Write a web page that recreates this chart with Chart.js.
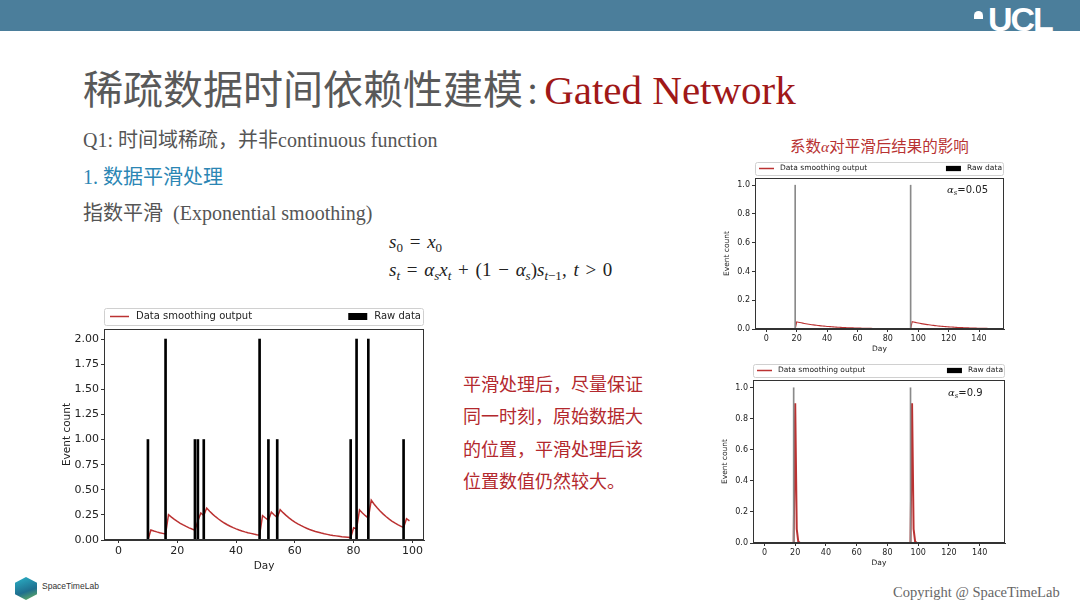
<!DOCTYPE html>
<html>
<head>
<meta charset="utf-8">
<script src="https://cdn.jsdelivr.net/npm/chart.js@4.4.1/dist/chart.umd.min.js"></script>
<style>
  html, body { margin: 0; padding: 0; background: #fff; }
  #lamina { position: relative; width: 1080px; height: 607px; overflow: hidden; background: #fff;
    font-family: "Liberation Serif", "Noto Sans CJK SC", serif; color: #555; }
  .abs { position: absolute; white-space: nowrap; }
  #banda { left: 0; top: 0; width: 1080px; height: 31px; background: #4b7e9b; }
  #ucl { left: 988px; top: 2px; font: bold 34px/34px "Liberation Sans", sans-serif; color: #fff; letter-spacing: -2px; }
  #cupula { left: 974px; top: 11px; width: 9px; height: 8px; background: #fff; border-radius: 5px 5px 0 0; }
  #titulo { left: 83px; top: 65px; font: 40px/44px "Noto Sans CJK SC", sans-serif; color: #595959; }
  #titulo .dos { font-family: "Liberation Serif", serif; color: #555; margin: 0 6px 0 4px; }
  #titulo .en { font: 41px/44px "Liberation Serif", serif; color: #a01818; }
  .linea { font-size: 20px; line-height: 24px; }
  #q1 { left: 83px; top: 128px; }
  #paso { left: 83px; top: 165px; color: #2b86b4; }
  #metodo { left: 83px; top: 201px; }
  .formula { font: 19px/22px "Liberation Serif", serif; color: #222; word-spacing: 2px; }
  .formula sub { font-size: 13px; vertical-align: -4px; line-height: 0; }
  #f1 { left: 389px; top: 231px; }
  #f2 { left: 389px; top: 259px; }
  #nota { left: 463px; top: 367px; font: 18px/32.3px "Noto Sans CJK SC", sans-serif; color: #b3282d; }
  #subtitulo { left: 790px; top: 135px; font: 15.5px/20px "Noto Sans CJK SC", sans-serif; color: #b83232; }
  #subtitulo i { font-family: "Liberation Serif", serif; }
  #cubo { left: 15px; top: 577px; width: 22px; height: 23px;
    background: linear-gradient(160deg, #2bb3c8, #1f6f8f 60%, #6fb85a);
    clip-path: polygon(50% 0, 100% 25%, 100% 75%, 50% 100%, 0 75%, 0 25%); }
  #lab { left: 42px; top: 581px; font: 8.5px/10px "Liberation Sans", sans-serif; color: #333; }
  #copy { left: 893px; top: 583px; font: 14.5px/18px "Liberation Serif", serif; color: #666; }
  canvas { position: absolute; }
</style>
</head>
<body>
<div id="lamina">
  <div id="banda" class="abs"></div>
  <div id="cupula" class="abs"></div>
  <div id="ucl" class="abs">UCL</div>

  <div id="titulo" class="abs">稀疏数据时间依赖性建模<span class="dos">:</span><span class="en">Gated Network</span></div>
  <div id="q1" class="abs linea">Q1: 时间域稀疏，并非continuous function</div>
  <div id="paso" class="abs linea">1. 数据平滑处理</div>
  <div id="metodo" class="abs linea">指数平滑&nbsp; (Exponential smoothing)</div>
  <div id="f1" class="abs formula"><i>s</i><sub>0</sub> = <i>x</i><sub>0</sub></div>
  <div id="f2" class="abs formula"><i>s<sub>t</sub></i> = <i>α<sub>s</sub>x<sub>t</sub></i> + (1 − <i>α<sub>s</sub></i>)<i>s<sub>t</sub></i><sub>−1</sub>, <i>t</i> &gt; 0</div>

  <div id="nota" class="abs">平滑处理后，尽量保证<br>同一时刻，原始数据大<br>的位置，平滑处理后该<br>位置数值仍然较大。</div>
  <div id="subtitulo" class="abs">系数<i>α</i>对平滑后结果的影响</div>

  <canvas id="graficaPrincipal" width="380" height="275" style="left:55px; top:303px; width:380px; height:275px;"></canvas>
  <canvas id="graficaAlfaBaja" width="290" height="198" style="left:720px; top:158px; width:290px; height:198px;"></canvas>
  <canvas id="graficaAlfaAlta" width="292" height="212" style="left:718px; top:358px; width:292px; height:212px;"></canvas>

  <div id="cubo" class="abs"></div>
  <div id="lab" class="abs">SpaceTimeLab</div>
  <div id="copy" class="abs">Copyright @ SpaceTimeLab</div>
</div>

<script>
// Datos de la gráfica principal (días 0..99)
const diasCrudoA = [10, 16, 26, 27, 29, 48, 51, 54, 79, 81, 85, 97];
const valoresCrudoA = [1, 2, 1, 1, 1, 2, 1, 1, 1, 2, 2, 1];
const suavizadoA = [
  0, 0, 0, 0, 0, 0, 0, 0, 0, 0,
  0, 0.100, 0.090, 0.081, 0.073, 0.066, 0.059, 0.253, 0.228, 0.205,
  0.185, 0.166, 0.150, 0.135, 0.121, 0.109, 0.098, 0.188, 0.269, 0.243,
  0.318, 0.286, 0.258, 0.232, 0.209, 0.188, 0.169, 0.152, 0.137, 0.123,
  0.111, 0.100, 0.090, 0.081, 0.073, 0.066, 0.059, 0.053, 0.048, 0.243,
  0.219, 0.197, 0.277, 0.249, 0.225, 0.302, 0.272, 0.245, 0.220, 0.198,
  0.178, 0.161, 0.145, 0.130, 0.117, 0.105, 0.095, 0.085, 0.077, 0.069,
  0.062, 0.056, 0.050, 0.045, 0.041, 0.037, 0.033, 0.030, 0.027, 0.024,
  0.122, 0.110, 0.299, 0.269, 0.242, 0.218, 0.396, 0.356, 0.321, 0.289,
  0.260, 0.234, 0.210, 0.189, 0.170, 0.153, 0.138, 0.124, 0.212, 0.191
];
const ticksXA = [0, 20, 40, 60, 80, 100];
const ticksYA = [0, 0.25, 0.5, 0.75, 1, 1.25, 1.5, 1.75, 2];

// Datos de las gráficas pequeñas (días 0..149)
const diasCrudoB = [19, 95];
const valoresCrudoB = [1, 1];
const suavizadoB = [
  0, 0, 0, 0, 0, 0, 0, 0, 0, 0,
  0, 0, 0, 0, 0, 0, 0, 0, 0, 0,
  0.0500, 0.0475, 0.0451, 0.0429, 0.0407, 0.0387, 0.0368, 0.0349, 0.0332, 0.0315,
  0.0299, 0.0284, 0.0270, 0.0257, 0.0244, 0.0232, 0.0220, 0.0209, 0.0199, 0.0189,
  0.0179, 0.0170, 0.0162, 0.0154, 0.0146, 0.0139, 0.0132, 0.0125, 0.0119, 0.0113,
  0.0107, 0.0102, 0.0097, 0.0092, 0.0087, 0.0083, 0.0079, 0.0075, 0.0071, 0.0068,
  0.0064, 0.0061, 0.0058, 0.0055, 0.0052, 0.0050, 0.0047, 0.0045, 0.0043, 0.0041,
  0.0038, 0.0037, 0.0035, 0.0033, 0.0031, 0.0030, 0.0028, 0.0027, 0.0026, 0.0024,
  0.0023, 0.0022, 0.0021, 0.0020, 0.0019, 0.0018, 0.0017, 0.0016, 0.0015, 0.0015,
  0.0014, 0.0013, 0.0012, 0.0012, 0.0011, 0.0011, 0.0510, 0.0485, 0.0460, 0.0437,
  0.0415, 0.0395, 0.0375, 0.0356, 0.0338, 0.0321, 0.0305, 0.0290, 0.0276, 0.0262,
  0.0249, 0.0236, 0.0224, 0.0213, 0.0203, 0.0192, 0.0183, 0.0174, 0.0165, 0.0157,
  0.0149, 0.0141, 0.0134, 0.0128, 0.0121, 0.0115, 0.0109, 0.0104, 0.0099, 0.0094,
  0.0089, 0.0085, 0.0080, 0.0076, 0.0073, 0.0069, 0.0066, 0.0062, 0.0059, 0.0056,
  0.0053, 0.0051, 0.0048, 0.0046, 0.0044, 0.0041, 0.0039, 0.0037, 0.0035, 0.0034
];
// Con alfa alto la curva solo se separa de cero justo después de cada evento
const diasSuavizadoC = [0, 19, 20, 21, 22, 23, 95, 96, 97, 98, 99, 149];
const suavizadoC = [0, 0, 0.9, 0.09, 0.009, 0.001, 0, 0.9, 0.09, 0.009, 0.001, 0];
const ticksXB = [0, 20, 40, 60, 80, 100, 120, 140];
const ticksYB = [0, 0.2, 0.4, 0.6, 0.8, 1.0];

const etiquetaLinea = 'Data smoothing output';
const etiquetaBarras = 'Raw data';
const alfaBaja = '0.05';
const alfaAlta = '0.9';

// Marco completo, leyenda de ancho completo y anotación de alfa
const marcoYLeyenda = {
  id: 'marcoYLeyenda',
  afterDraw(chart, args, o) {
    const ctx = chart.ctx;
    const a = chart.chartArea;
    ctx.save();
    ctx.strokeStyle = '#333';
    ctx.lineWidth = 1;
    ctx.strokeRect(Math.round(a.left) + 0.5, Math.round(a.top) + 0.5, Math.round(a.width) - 1, Math.round(a.height) - 1);

    // leyenda
    const y0 = a.top - o.separacion - o.alto;
    const ym = y0 + o.alto / 2;
    ctx.fillStyle = '#fff';
    ctx.strokeStyle = '#d0d0d0';
    ctx.beginPath();
    ctx.roundRect(a.left + 0.5, y0 + 0.5, a.width - 1, o.alto, 2);
    ctx.fill();
    ctx.stroke();

    const linea = chart.data.datasets.find(d => d.type === 'line');
    const barras = chart.data.datasets.find(d => d.type === 'bar');
    ctx.strokeStyle = linea.borderColor;
    ctx.lineWidth = 1.5;
    ctx.beginPath();
    ctx.moveTo(a.left + o.margen, ym);
    ctx.lineTo(a.left + o.margen + o.muestra, ym);
    ctx.stroke();
    ctx.font = o.fuente + 'px "DejaVu Sans"';
    ctx.fillStyle = '#222';
    ctx.textBaseline = 'middle';
    ctx.textAlign = 'left';
    ctx.fillText(linea.label, a.left + o.margen + o.muestra + o.hueco, ym);

    ctx.textAlign = 'right';
    const anchoTexto = ctx.measureText(barras.label).width;
    const xTexto = a.right - o.margen / 2;
    ctx.fillText(barras.label, xTexto, ym);
    ctx.fillStyle = '#000';
    ctx.fillRect(xTexto - anchoTexto - o.hueco - o.muestra, ym - o.fuente * 0.35, o.muestra, o.fuente * 0.7);

    // anotación alfa
    if (o.alfa) {
      let x = a.right - o.alfaDerecha;
      const y = a.top + o.alfaArriba;
      ctx.fillStyle = '#222';
      ctx.textAlign = 'left';
      ctx.font = 'italic ' + o.alfaFuente + 'px "DejaVu Serif"';
      ctx.fillText('α', x, y);
      x += ctx.measureText('α').width;
      ctx.font = 'italic ' + (o.alfaFuente * 0.7) + 'px "DejaVu Serif"';
      ctx.fillText('s', x, y + o.alfaFuente * 0.3);
      x += ctx.measureText('s').width;
      ctx.font = o.alfaFuente + 'px "DejaVu Sans"';
      ctx.fillText('=' + o.alfa, x, y);
    }
    ctx.restore();
  }
};

// Crea una gráfica con línea suavizada y barras de datos crudos
function crearGrafica(id, p) {
  const ctx = document.getElementById(id).getContext('2d');
  const eje = (ticks, min, max, decimales, titulo, tamTitulo, relleno) => ({
    type: 'linear',
    min: min,
    max: max,
    offset: false,
    afterBuildTicks: ax => { ax.ticks = ticks.map(v => ({ value: v })); },
    ticks: {
      autoSkip: false,
      maxRotation: 0,
      padding: 2,
      color: '#222',
      font: { family: 'DejaVu Sans', size: p.fuenteTicks },
      callback: v => Number(v).toFixed(decimales)
    },
    grid: { display: true, drawOnChartArea: false, drawTicks: true, tickLength: 3, color: '#333', offset: false },
    border: { display: true, color: '#333' },
    title: { display: true, text: titulo, color: '#222', padding: relleno, font: { family: 'DejaVu Sans', size: tamTitulo } }
  });

  const ejeX = eje(p.ticksX, p.minX, p.maxX, 0, 'Day', p.fuenteTitulo, { top: 0, bottom: p.rellenoDia });
  ejeX.afterFit = ax => { ax.height = p.altoEjeX; };
  const ejeY = eje(p.ticksY, 0, p.maxY, p.decimalesY, 'Event count', p.fuenteTitulo, { top: p.rellenoEvento, bottom: 0 });
  ejeY.afterFit = ax => { ax.width = p.anchoEjeY; };

  new Chart(ctx, {
    type: 'bar',
    data: {
      datasets: [
        {
          type: 'line',
          label: etiquetaLinea,
          data: p.suavizado.map((v, i) => ({ x: p.diasSuavizado ? p.diasSuavizado[i] : i, y: v })),
          borderColor: '#bb3232',
          borderWidth: p.grosorLinea,
          pointRadius: 0,
          tension: 0,
          fill: false,
          order: 2
        },
        {
          type: 'bar',
          label: etiquetaBarras,
          data: p.diasCrudo.map((d, i) => ({ x: d, y: p.valoresCrudo[i] })),
          backgroundColor: p.colorBarras,
          barThickness: p.anchoBarra,
          grouped: false,
          order: 1
        }
      ]
    },
    options: {
      responsive: false,
      animation: false,
      devicePixelRatio: 1,
      layout: { padding: { left: 0, top: p.arriba, right: p.derecha, bottom: 0 } },
      plugins: {
        legend: { display: false },
        tooltip: { enabled: false },
        marcoYLeyenda: p.leyenda
      },
      scales: { x: ejeX, y: ejeY }
    },
    plugins: [marcoYLeyenda]
  });
}

crearGrafica('graficaPrincipal', {
  diasCrudo: diasCrudoA, valoresCrudo: valoresCrudoA, suavizado: suavizadoA,
  ticksX: ticksXA, ticksY: ticksYA, minX: -4.95, maxX: 103.95, maxY: 2.1, decimalesY: 2,
  fuenteTicks: 11, fuenteTitulo: 10.5, altoEjeX: 38, anchoEjeY: 49, arriba: 26, derecha: 11,
  rellenoDia: 5, rellenoEvento: 6,
  grosorLinea: 1.5, colorBarras: '#000', anchoBarra: 2,
  leyenda: { alto: 17, separacion: 4, margen: 6, muestra: 19, hueco: 7, fuente: 10 }
});

crearGrafica('graficaAlfaBaja', {
  diasCrudo: diasCrudoB, valoresCrudo: valoresCrudoB, suavizado: suavizadoB,
  ticksX: ticksXB, ticksY: ticksYB, minX: -7.45, maxX: 156.45, maxY: 1.05, decimalesY: 1,
  fuenteTicks: 8, fuenteTitulo: 7.5, altoEjeX: 27, anchoEjeY: 35, arriba: 20, derecha: 6,
  rellenoDia: 2, rellenoEvento: 3,
  grosorLinea: 1.1, colorBarras: '#8a8a8a', anchoBarra: 1,
  leyenda: { alto: 13, separacion: 3, margen: 4, muestra: 15, hueco: 6, fuente: 7.5,
    alfa: alfaBaja, alfaDerecha: 57, alfaArriba: 12, alfaFuente: 10 }
});

crearGrafica('graficaAlfaAlta', {
  diasCrudo: diasCrudoB, valoresCrudo: valoresCrudoB, suavizado: suavizadoC, diasSuavizado: diasSuavizadoC,
  ticksX: ticksXB, ticksY: ticksYB, minX: -7.45, maxX: 156.45, maxY: 1.05, decimalesY: 1,
  fuenteTicks: 8, fuenteTitulo: 7.5, altoEjeX: 27, anchoEjeY: 35, arriba: 22, derecha: 5,
  rellenoDia: 2, rellenoEvento: 3,
  grosorLinea: 2, colorBarras: '#8a8a8a', anchoBarra: 1,
  leyenda: { alto: 13, separacion: 3, margen: 4, muestra: 15, hueco: 6, fuente: 7.5,
    alfa: alfaAlta, alfaDerecha: 57, alfaArriba: 13, alfaFuente: 10 }
});
</script>
</body>
</html>
